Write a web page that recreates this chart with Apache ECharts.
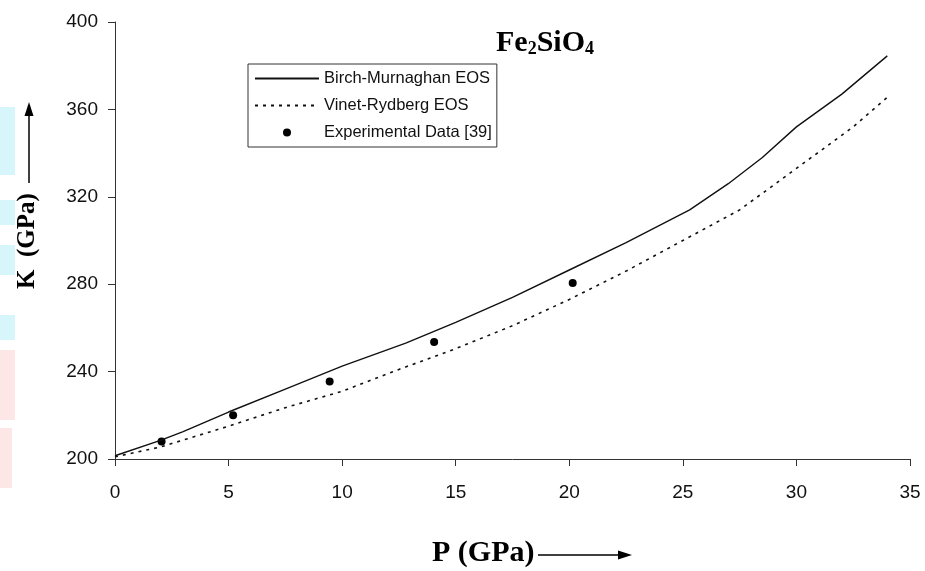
<!DOCTYPE html>
<html>
<head>
<meta charset="utf-8">
<title>Fe2SiO4 K vs P</title>
<script src="https://cdn.jsdelivr.net/npm/echarts@6/dist/echarts.min.js"></script>
<style>
  html, body { margin: 0; padding: 0; background: #fff; }
  #chart { width: 925px; height: 571px; }
</style>
</head>
<body>
<div id="chart"></div>
<script>
// Birch-Murnaghan EOS (solid line), [P, K]
var birchP = [0, 2, 3, 5, 7.5, 10, 12.8, 15, 17.5, 20, 22.5, 25.3, 27, 28.5, 30, 32, 34];
var birchK = [201.5, 208.5, 212.5, 221.5, 232, 242.5, 253, 262.5, 274, 286.5, 299, 314, 326, 338, 352, 367, 384.5];

// Vinet-Rydberg EOS (dotted line)
var vinetP = [0, 2, 5, 7.5, 10, 12.5, 15, 17.5, 20, 22.5, 25, 27.5, 30, 32.5, 34];
var vinetK = [201, 205.5, 215, 223.5, 231, 241, 250.5, 261, 273, 286, 300, 314, 333, 352, 365.5];

// Experimental Data [39]
var expP = [2.05, 5.2, 9.45, 14.05, 20.15];
var expK = [208, 220, 235.5, 253.5, 280.5];

var xTicks = [0, 5, 10, 15, 20, 25, 30, 35];
var yTicks = [200, 240, 280, 320, 360, 400];

function pairs(xs, ys) {
  return xs.map(function (x, i) { return [x, ys[i]]; });
}

var chart = echarts.init(document.getElementById('chart'));

chart.setOption({
  backgroundColor: '#fff',
  animation: false,
  title: {
    text: '{a|Fe}{s|2}{a|SiO}{s|4}',
    left: 496,
    top: 24,
    padding: 0,
    textStyle: {
      rich: {
        a: { fontFamily: 'Liberation Serif', fontWeight: 'bold', fontSize: 30, lineHeight: 34, color: '#000', verticalAlign: 'bottom' },
        s: { fontFamily: 'Liberation Serif', fontWeight: 'bold', fontSize: 18, lineHeight: 14, color: '#000', verticalAlign: 'bottom' }
      }
    }
  },
  legend: {
    orient: 'vertical',
    left: 248,
    top: 64,
    padding: [6, 5, 6, 6],
    itemWidth: 64,
    itemHeight: 8,
    itemGap: 10,
    borderColor: '#333',
    borderWidth: 1,
    textStyle: { fontFamily: 'Liberation Sans', fontSize: 16.5, color: '#111' },
    data: [
      { name: 'Birch-Murnaghan EOS', itemStyle: { opacity: 0 } },
      { name: 'Vinet-Rydberg EOS', itemStyle: { opacity: 0 } },
      { name: 'Experimental Data [39]', itemStyle: { color: '#000', opacity: 1 } }
    ]
  },
  grid: { left: 115, right: 15, top: 22, bottom: 112, containLabel: false },
  xAxis: {
    type: 'value',
    min: xTicks[0],
    max: xTicks[xTicks.length - 1],
    interval: 5,
    axisLine: { show: true, lineStyle: { color: '#333', width: 1 } },
    axisTick: { show: true, inside: false, length: 7, lineStyle: { color: '#333' } },
    axisLabel: { margin: 24, fontFamily: 'Liberation Sans', fontSize: 19, color: '#111' },
    splitLine: { show: false }
  },
  yAxis: {
    type: 'value',
    min: yTicks[0],
    max: yTicks[yTicks.length - 1],
    interval: 40,
    axisLine: { show: true, lineStyle: { color: '#333', width: 1 } },
    axisTick: { show: true, inside: false, length: 7, lineStyle: { color: '#333' } },
    axisLabel: { margin: 17, fontFamily: 'Liberation Sans', fontSize: 19, color: '#111' },
    splitLine: { show: false }
  },
  series: [
    {
      name: 'Birch-Murnaghan EOS',
      type: 'line',
      data: pairs(birchP, birchK),
      symbol: 'none',
      lineStyle: { color: '#111', width: 1.4, type: 'solid' },
      itemStyle: { color: '#111' }
    },
    {
      name: 'Vinet-Rydberg EOS',
      type: 'line',
      data: pairs(vinetP, vinetK),
      symbol: 'none',
      lineStyle: { color: '#111', width: 1.6, type: [3, 5] },
      itemStyle: { color: '#111' }
    },
    {
      name: 'Experimental Data [39]',
      type: 'scatter',
      data: pairs(expP, expK),
      symbol: 'circle',
      symbolSize: 8,
      itemStyle: { color: '#000', opacity: 1 }
    }
  ],
  graphic: [
    // faint scan marks along the left edge
    { type: 'rect', shape: { x: 0, y: 107, width: 15, height: 68 }, style: { fill: '#d6f6fb' }, silent: true },
    { type: 'rect', shape: { x: 0, y: 200, width: 15, height: 25 }, style: { fill: '#d6f6fb' }, silent: true },
    { type: 'rect', shape: { x: 0, y: 245, width: 15, height: 30 }, style: { fill: '#d6f6fb' }, silent: true },
    { type: 'rect', shape: { x: 0, y: 315, width: 15, height: 25 }, style: { fill: '#d6f6fb' }, silent: true },
    { type: 'rect', shape: { x: 0, y: 350, width: 15, height: 70 }, style: { fill: '#fde6e6' }, silent: true },
    { type: 'rect', shape: { x: 0, y: 428, width: 12, height: 60 }, style: { fill: '#fde6e6' }, silent: true },
    // y axis name with arrow
    {
      type: 'text',
      x: 28, y: 241,
      rotation: Math.PI / 2,
      style: {
        text: 'K  (GPa)',
        fontFamily: 'Liberation Serif', fontWeight: 'bold', fontSize: 25,
        fill: '#000', align: 'center', verticalAlign: 'middle'
      }
    },
    { type: 'line', shape: { x1: 29, y1: 183, x2: 29, y2: 112 }, style: { stroke: '#000', lineWidth: 1.5 } },
    { type: 'polygon', shape: { points: [[29, 102], [24.5, 116], [33.5, 116]] }, style: { fill: '#000' } },
    // x axis name with arrow
    {
      type: 'text',
      x: 432, y: 553,
      style: {
        text: 'P (GPa)',
        fontFamily: 'Liberation Serif', fontWeight: 'bold', fontSize: 30,
        fill: '#000', align: 'left', verticalAlign: 'middle'
      }
    },
    { type: 'line', shape: { x1: 538, y1: 555, x2: 622, y2: 555 }, style: { stroke: '#000', lineWidth: 1.5 } },
    { type: 'polygon', shape: { points: [[632, 555], [618, 550.5], [618, 559.5]] }, style: { fill: '#000' } }
  ]
});
</script>
</body>
</html>
